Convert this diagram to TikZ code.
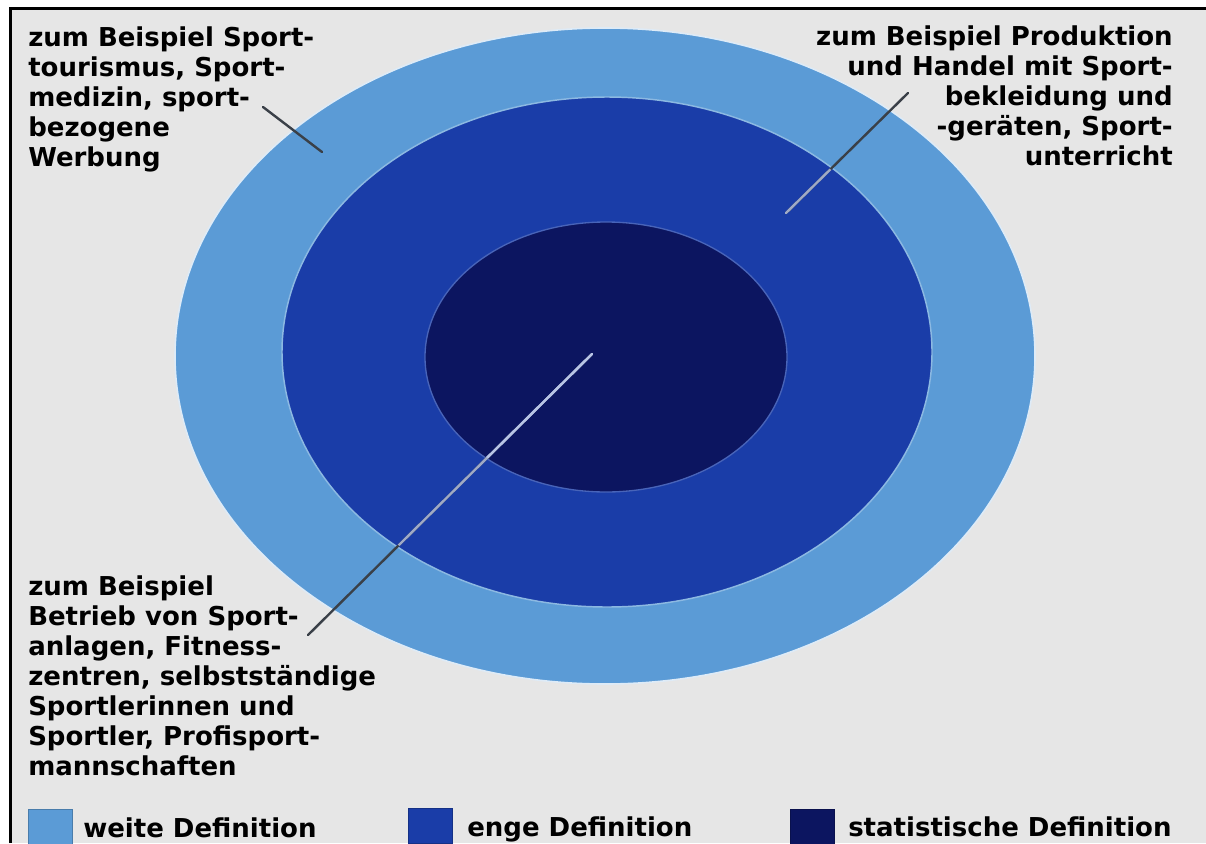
\documentclass[tikz,border=0pt]{standalone}
\usepackage{fontspec}
\setmainfont{DejaVu Sans}
\usepackage{xcolor}
\usetikzlibrary{positioning}
\definecolor{sportbg}{HTML}{E6E6E6}
\definecolor{sportweit}{HTML}{5B9BD6}
\definecolor{sporteng}{HTML}{1A3DA8}
\definecolor{sportstat}{HTML}{0C1560}
\definecolor{sportline}{HTML}{3A4048}
\definecolor{sportlight}{HTML}{B8C4E6}

\begin{document}
\begin{tikzpicture}[x=0.75pt,y=-0.75pt,
    beispiel/.style={font=\bfseries\fontsize{19.5}{22.5}\selectfont,inner sep=0pt},
    leitlinie/.style={line width=1.8pt,line cap=round},
    legendbox/.style={anchor=north west,inner sep=0pt,minimum width=33pt,minimum height=26pt}]
    \useasboundingbox (0,0) rectangle (1206,843);
    \fill[white] (0,0) rectangle (1206,843);
    \fill[sportbg] (11,9) rectangle (1206,843);
    \draw[black,line width=2.25pt] (10.5,843) -- (10.5,8.5) -- (1206,8.5);
    % Ringe
    \fill[sportweit] (605,356) ellipse [x radius=430,y radius=328];
    \draw[white!80!sportweit,line width=1.2pt] (605,356) ellipse [x radius=430,y radius=328];
    \fill[sporteng] (607,352) ellipse [x radius=325,y radius=255];
    \draw[sportweit!70!white,line width=1.1pt] (607,352) ellipse [x radius=325,y radius=255];
    \fill[sportstat] (606,357) ellipse [x radius=181,y radius=135];
    \draw[sporteng!80!white,line width=1pt] (606,357) ellipse [x radius=181,y radius=135];
    % Texte
    \node[beispiel,anchor=north west,align=left] (weit) at (28,26)
      {zum Beispiel Sport-\\tourismus, Sport-\\medizin, sport-\\bezogene\\Werbung};
    \node[beispiel,anchor=north east,align=right] (eng) at (1173,25)
      {zum Beispiel Produktion\\und Handel mit Sport-\\bekleidung und\\-geräten, Sport-\\unterricht};
    \node[beispiel,anchor=north west,align=left] (stat) at (28,575)
      {zum Beispiel\\Betrieb von Sport-\\anlagen, Fitness-\\zentren, selbstständige\\Sportlerinnen und\\Sportler, Profisport-\\mannschaften};
    % Linien
    \coordinate (weitA) at (263,107);
    \coordinate (weitB) at (322,152);
    \coordinate (engA) at (908,93);
    \coordinate (engB) at (786,213);
    \coordinate (statA) at (592,354);
    \coordinate (statB) at (308,635);
    \draw[leitlinie,sportline] (weitA) -- (weitB);
    \draw[leitlinie,sportline] (engA) -- (engB);
    \draw[leitlinie,sportline] (statA) -- (statB);
    \begin{scope}
      \clip (607,352) ellipse [x radius=323,y radius=253];
      \draw[leitlinie,sportlight!80!sportline] (engA) -- (engB);
      \draw[leitlinie,sportlight!80!sportline] (statA) -- (statB);
    \end{scope}
    \begin{scope}
      \clip (606,357) ellipse [x radius=180,y radius=134];
      \draw[leitlinie,sportlight] (statA) -- (statB);
    \end{scope}
    % Legende
    \node[legendbox,fill=sportweit,draw=sportweit!80!black] (kweit) at (28,809) {};
    \node[legendbox,fill=sporteng,draw=sporteng!80!black] (keng) at (408,808) {};
    \node[legendbox,fill=sportstat,draw=sportstat!80!black] (kstat) at (790,809) {};
    \node[beispiel,anchor=base west] (tweit) at (83,837) {weite Definition};
    \node[beispiel,anchor=base west] (teng) at (467,836) {enge Definition};
    \node[beispiel,anchor=base west] (tstat) at (848,836) {statistische Definition};
\end{tikzpicture}
\end{document}
